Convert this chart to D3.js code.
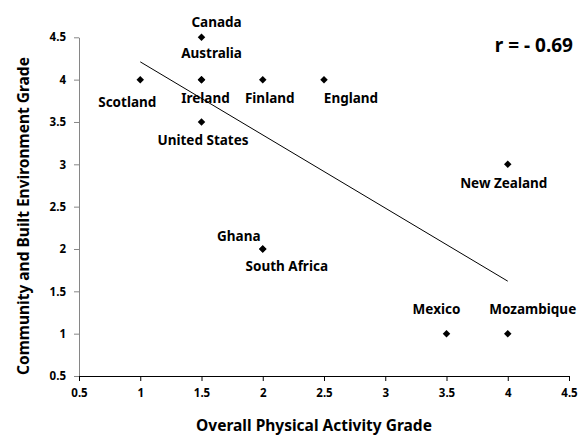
<!DOCTYPE html>
<html>
<head>
<meta charset="utf-8">
<script src="https://cdn.jsdelivr.net/npm/d3@7"></script>
<style>
  body { margin: 0; background: #fff; }
  text { font-family: "Noto Sans", "Open Sans", sans-serif; font-weight: bold; fill: #000; }
</style>
</head>
<body>
<script>
// country grades
var countries = ["Canada", "Australia", "Scotland", "Ireland", "Finland", "England",
                 "United States", "New Zealand", "Ghana", "South Africa", "Mexico", "Mozambique"];
var activityGrade = [1.5, 1.5, 1, 1.5, 2, 2.5, 1.5, 4, 2, 2, 3.5, 4];
var environmentGrade = [4.5, 4, 4, 4, 4, 4, 3.5, 3, 2, 2, 1, 1];

// trend line ends (x, y)
var trendX = [1, 4];
var trendY = [4.21, 1.62];

var xTicks = [0.5, 1, 1.5, 2, 2.5, 3, 3.5, 4, 4.5];
var yTicks = [0.5, 1, 1.5, 2, 2.5, 3, 3.5, 4, 4.5];

// where each label sits relative to its marker
var labelLayout = {
    "Canada": [15, -10], "Australia": [10, -22], "Scotland": [-13, 27],
    "Ireland": [4, 23], "Finland": [7, 23], "England": [27, 23],
    "United States": [1.5, 23], "New Zealand": [-4, 24], "Ghana": [-24, -8],
    "South Africa": [24, 22], "Mexico": [-10, -20], "Mozambique": [25, -20]
};

window.onload = function(){
    var w = 584, h = 436;
    var svg = d3.select("body").append("svg")
        .attr("width", w)
        .attr("height", h);

    var x = d3.scaleLinear().domain([0.5, 4.5]).range([79, 569]);
    var y = d3.scaleLinear().domain([0.5, 4.5]).range([376, 37.3]);

    //y axis
    var yAxis = svg.append("g")
        .attr("transform", "translate(79,0)")
        .call(d3.axisLeft(y).tickValues(yTicks).tickSize(5).tickPadding(8).tickSizeOuter(0)
            .tickFormat(d3.format("")));
    yAxis.select(".domain").attr("stroke", "#868686");
    yAxis.selectAll(".tick line").attr("stroke", "#868686");
    yAxis.selectAll(".tick text").style("font-size", "11.5px");

    //x axis
    var xAxis = svg.append("g")
        .attr("transform", "translate(0,376)")
        .call(d3.axisBottom(x).tickValues(xTicks).tickSize(5).tickPadding(8).tickSizeOuter(0)
            .tickFormat(d3.format("")));
    xAxis.select(".domain").attr("stroke", "#000");
    xAxis.selectAll(".tick line").attr("stroke", "#000");
    xAxis.selectAll(".tick text").style("font-size", "11.5px");

    //trend line
    var trend = trendX.map(function(d, i){ return [d, trendY[i]]; });
    svg.append("path")
        .datum(trend)
        .attr("fill", "none")
        .attr("stroke", "#000")
        .attr("stroke-width", 1)
        .attr("d", d3.line().x(function(d){ return x(d[0]); }).y(function(d){ return y(d[1]); }));

    var pts = countries.map(function(c, i){
        return { name: c, px: activityGrade[i], py: environmentGrade[i] };
    });

    //diamond markers
    svg.selectAll(".marker")
        .data(pts)
        .enter()
        .append("path")
        .attr("class", "marker")
        .attr("d", d3.symbol().type(d3.symbolSquare).size(28))
        .attr("transform", function(d){
            return "translate(" + x(d.px) + "," + y(d.py) + ") rotate(45)";
        })
        .attr("fill", "#000");

    //country labels
    svg.selectAll(".label")
        .data(pts)
        .enter()
        .append("text")
        .attr("class", "label")
        .attr("x", function(d){ return x(d.px) + labelLayout[d.name][0]; })
        .attr("y", function(d){ return y(d.py) + labelLayout[d.name][1]; })
        .attr("text-anchor", "middle")
        .style("font-size", "13.5px")
        .text(function(d){ return d.name; });

    //axis titles
    svg.append("text")
        .attr("x", 314)
        .attr("y", 431)
        .attr("text-anchor", "middle")
        .style("font-size", "15.5px")
        .text("Overall Physical Activity Grade");

    svg.append("text")
        .attr("transform", "translate(29,216) rotate(-90)")
        .attr("text-anchor", "middle")
        .style("font-size", "15.5px")
        .text("Community and Built Environment Grade");

    svg.append("text")
        .attr("x", 573)
        .attr("y", 52)
        .attr("text-anchor", "end")
        .style("font-size", "19px")
        .text("r = - 0.69");
};
</script>
</body>
</html>
